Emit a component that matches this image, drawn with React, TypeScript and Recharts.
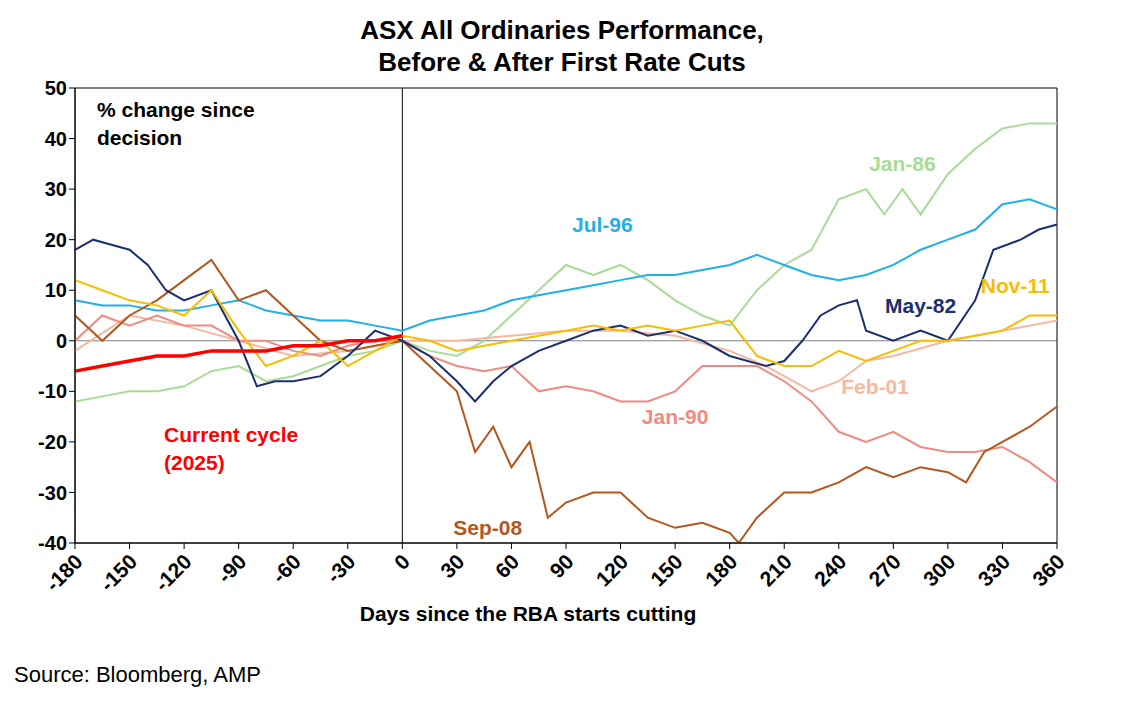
import React from "react";
import { LineChart, Line, XAxis, YAxis, ReferenceLine, ReferenceArea, ReferenceDot } from "recharts";

type P = { d: number; v: number };
const mk = (a: number[][]): P[] => a.map(([d, v]) => ({ d, v }));

const current = mk([[-180,-6],[-165,-5],[-150,-4],[-135,-3],[-120,-3],[-105,-2],[-90,-2],[-75,-2],[-60,-1],[-45,-1],[-30,0],[-15,0],[0,1]]);
const jan86 = mk([[-180,-12],[-165,-11],[-150,-10],[-135,-10],[-120,-9],[-105,-6],[-90,-5],[-75,-8],[-60,-7],[-45,-5],[-30,-3],[-15,-2],[0,0],[15,-2],[30,-3],[45,0],[60,5],[75,10],[90,15],[105,13],[120,15],[135,12],[150,8],[165,5],[180,3],[195,10],[210,15],[225,18],[240,28],[255,30],[265,25],[275,30],[285,25],[300,33],[315,38],[330,42],[345,43],[360,43]]);
const jul96 = mk([[-180,8],[-165,7],[-150,7],[-135,6],[-120,6],[-105,7],[-90,8],[-75,6],[-60,5],[-45,4],[-30,4],[-15,3],[0,2],[15,4],[30,5],[45,6],[60,8],[75,9],[90,10],[105,11],[120,12],[135,13],[150,13],[165,14],[180,15],[195,17],[210,15],[225,13],[240,12],[255,13],[270,15],[285,18],[300,20],[315,22],[330,27],[345,28],[360,26]]);
const may82 = mk([[-180,18],[-170,20],[-160,19],[-150,18],[-140,15],[-130,10],[-120,8],[-105,10],[-90,0],[-80,-9],[-70,-8],[-60,-8],[-45,-7],[-30,-3],[-15,2],[0,0],[15,-3],[30,-8],[40,-12],[50,-8],[60,-5],[75,-2],[90,0],[105,2],[120,3],[135,1],[150,2],[165,0],[180,-3],[200,-5],[210,-4],[220,0],[230,5],[240,7],[250,8],[255,2],[270,0],[285,2],[300,0],[315,8],[325,18],[340,20],[350,22],[360,23]]);
const nov11 = mk([[-180,12],[-165,10],[-150,8],[-135,7],[-120,5],[-105,10],[-90,2],[-75,-5],[-60,-3],[-45,0],[-30,-5],[-15,-2],[0,1],[15,0],[30,-2],[45,-1],[60,0],[75,1],[90,2],[105,3],[120,2],[135,3],[150,2],[165,3],[180,4],[195,-3],[210,-5],[225,-5],[240,-2],[255,-4],[270,-2],[285,0],[300,0],[315,1],[330,2],[345,5],[360,5]]);
const sep08 = mk([[-180,5],[-165,0],[-150,5],[-135,8],[-120,12],[-105,16],[-90,8],[-75,10],[-60,5],[-45,0],[-30,-2],[-15,-1],[0,0],[15,-5],[30,-10],[40,-22],[50,-17],[60,-25],[70,-20],[80,-35],[90,-32],[105,-30],[120,-30],[135,-35],[150,-37],[165,-36],[180,-38],[185,-40],[195,-35],[210,-30],[225,-30],[240,-28],[255,-25],[270,-27],[285,-25],[300,-26],[310,-28],[320,-22],[330,-20],[345,-17],[360,-13]]);
const jan90 = mk([[-180,0],[-165,5],[-150,3],[-135,5],[-120,3],[-105,3],[-90,0],[-75,0],[-60,-2],[-45,-3],[-30,-1],[-15,0],[0,0],[15,-3],[30,-5],[45,-6],[60,-5],[75,-10],[90,-9],[105,-10],[120,-12],[135,-12],[150,-10],[165,-5],[180,-5],[195,-5],[210,-8],[225,-12],[240,-18],[255,-20],[270,-18],[285,-21],[300,-22],[315,-22],[330,-21],[345,-24],[360,-28]]);
const feb01 = mk([[-180,-2],[-150,5],[-120,3],[-90,0],[-60,-3],[-30,-2],[0,0],[30,0],[60,1],[90,2],[120,2],[150,1],[180,-2],[200,-5],[215,-8],[225,-10],[240,-8],[255,-4],[270,-3],[300,0],[330,2],[360,4]]);

const xTicks = [-180,-150,-120,-90,-60,-30,0,30,60,90,120,150,180,210,240,270,300,330,360];
const yTicks = [-40,-30,-20,-10,0,10,20,30,40,50];

const series = [
  { name: "Jan-86", data: jan86, color: "#a8dc96", w: 2 },
  { name: "Feb-01", data: feb01, color: "#f6b8a0", w: 2 },
  { name: "Jan-90", data: jan90, color: "#f28a84", w: 2 },
  { name: "Jul-96", data: jul96, color: "#1fb0ec", w: 2 },
  { name: "Sep-08", data: sep08, color: "#b5561c", w: 2 },
  { name: "May-82", data: may82, color: "#1a2f70", w: 2 },
  { name: "Nov-11", data: nov11, color: "#f8bc00", w: 2 },
  { name: "Current", data: current, color: "#ff0000", w: 3.5 },
];

const labels = [
  { x: 110, y: 23, t: "Jul-96", c: "#1fb0ec" },
  { x: 275, y: 35, t: "Jan-86", c: "#a8dc96" },
  { x: 285, y: 7, t: "May-82", c: "#1a2f70" },
  { x: 337, y: 11, t: "Nov-11", c: "#f8bc00" },
  { x: 260, y: -9, t: "Feb-01", c: "#f6b8a0" },
  { x: 150, y: -15, t: "Jan-90", c: "#f28a84" },
  { x: 47, y: -37, t: "Sep-08", c: "#b5561c" },
];

const tickFont = { fontFamily: "Liberation Sans, Arial", fontWeight: 700, fontSize: 20, fill: "#000" };

const XTick = (p: any) => (
  <text x={p.x + 9} y={p.y + 12} textAnchor="end" transform={`rotate(-45 ${p.x + 9} ${p.y + 12})`} style={{ ...tickFont, fontSize: 21 }}>
    {p.payload.value}
  </text>
);

export default function App() {
  return (
    <div style={{ position: "absolute", left: 0, top: 0, width: 1124, height: 702, background: "#fff", fontFamily: "Liberation Sans, Arial" }}>
      <div style={{ position: "absolute", left: 0, width: 1124, top: 14, textAlign: "center", fontWeight: 700, fontSize: 26, lineHeight: "32px" }}>
        ASX All Ordinaries Performance,<br />Before &amp; After First Rate Cuts
      </div>
      <LineChart width={1124} height={640} margin={{ top: 88, right: 67, left: 15, bottom: 37 }}>
        <XAxis type="number" dataKey="d" domain={[-180, 360]} ticks={xTicks} tick={<XTick />} height={60} axisLine={{ stroke: "#000" }} tickLine={{ stroke: "#000" }} interval={0} />
        <YAxis type="number" domain={[-40, 50]} ticks={yTicks} width={60} tick={tickFont} axisLine={{ stroke: "#000" }} tickLine={{ stroke: "#000" }} interval={0} />
        <ReferenceArea x1={-180} x2={360} y1={-40} y2={50} fill="none" stroke="#000" strokeWidth={1} ifOverflow="visible" />
        <ReferenceLine x={0} stroke="#000" strokeWidth={1} />
        <ReferenceLine y={0} stroke="#000" strokeWidth={0.5} />
        {series.map((s) => (
          <Line key={s.name} data={s.data} dataKey="v" type="linear" stroke={s.color} strokeWidth={s.w} dot={false} isAnimationActive={false} />
        ))}
        {labels.map((l) => (
          <ReferenceDot key={l.t} x={l.x} y={l.y} r={0} fill="none" stroke="none"
            label={{ value: l.t, position: "center", fill: l.c, fontSize: 21, fontWeight: 700, fontFamily: "Liberation Sans, Arial" }} />
        ))}
      </LineChart>
      <div style={{ position: "absolute", left: 97, top: 96, fontSize: 21, fontWeight: 700, lineHeight: "28px" }}>% change since<br />decision</div>
      <div style={{ position: "absolute", left: 164, top: 421, fontSize: 21, fontWeight: 700, lineHeight: "28px", color: "#ff0000" }}>Current cycle<br />(2025)</div>
      <div style={{ position: "absolute", left: 0, width: 1056, top: 602, textAlign: "center", fontSize: 21, fontWeight: 700 }}>Days since the RBA starts cutting</div>
      <div style={{ position: "absolute", left: 14, top: 662, fontSize: 22 }}>Source: Bloomberg, AMP</div>
    </div>
  );
}
